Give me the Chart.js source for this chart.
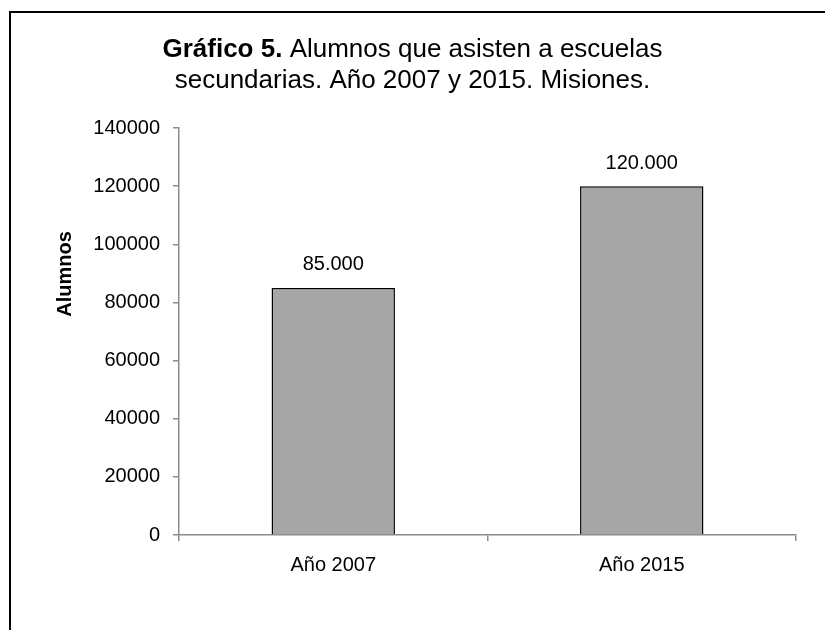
<!DOCTYPE html>
<html>
<head>
<meta charset="utf-8">
<script src="https://cdn.jsdelivr.net/npm/chart.js@4"></script>
<style>
  body { margin: 0; background: #fff; }
  canvas { display: block; }
</style>
</head>
<body>
<canvas id="myChart" width="825" height="630"></canvas>
<script>
const categories = ['Año 2007', 'Año 2015'];
const alumnos = [85000, 120000];
const yTicks = [0, 20000, 40000, 60000, 80000, 100000, 120000, 140000];

const FONT = '"Liberation Sans", Arial, sans-serif';

// puntos de miles: 85000 -> 85.000
const fmt = v => String(v).replace(/\B(?=(\d{3})+(?!\d))/g, '.');

const decoraciones = {
  id: 'decoraciones',
  afterDraw(chart) {
    const c = chart.ctx;
    c.save();
    // marco (solo arriba e izquierda)
    c.strokeStyle = '#000';
    c.lineWidth = 2;
    c.beginPath();
    c.moveTo(825, 12);
    c.lineTo(10, 12);
    c.lineTo(10, 630);
    c.stroke();

    // título con parte en negrita
    c.fillStyle = '#000';
    c.textBaseline = 'middle';
    c.textAlign = 'left';
    const bold = 'bold 26px ' + FONT, norm = '26px ' + FONT;
    const a = 'Gráfico 5.', b = ' Alumnos que asisten a escuelas';
    c.font = bold; const wa = c.measureText(a).width;
    c.font = norm; const wb = c.measureText(b).width;
    let x0 = 412.5 - (wa + wb) / 2;
    c.font = bold; c.fillText(a, x0, 50);
    c.font = norm; c.fillText(b, x0 + wa, 50);
    c.textAlign = 'center';
    c.fillText('secundarias. Año 2007 y 2015. Misiones.', 412.5, 81);

    // título eje Y
    c.save();
    c.translate(65, 274);
    c.rotate(-Math.PI / 2);
    c.font = 'bold 20px ' + FONT;
    c.fillText('Alumnos', 0, 0);
    c.restore();

    // etiquetas de datos
    c.font = '20px ' + FONT;
    chart.getDatasetMeta(0).data.forEach((bar, i) => {
      c.fillText(fmt(alumnos[i]), bar.x, bar.y - 23);
    });
    c.restore();
  }
};

new Chart(document.getElementById('myChart'), {
  type: 'bar',
  data: {
    labels: categories,
    datasets: [{
      data: alumnos,
      backgroundColor: '#a6a6a6',
      borderColor: '#000',
      borderWidth: 1.5,
      barPercentage: 1,
      categoryPercentage: 0.4
    }]
  },
  options: {
    responsive: false,
    animation: false,
    layout: { padding: { top: 128, right: 29, left: 0, bottom: 0 } },
    plugins: {
      legend: { display: false },
      tooltip: { enabled: false }
    },
    scales: {
      y: {
        min: 0,
        max: 140000,
        afterFit: s => { s.width = 179; },
        afterBuildTicks: s => { s.ticks = yTicks.map(v => ({ value: v })); },
        ticks: {
          color: '#000',
          font: { family: FONT, size: 20 },
          padding: 13,
          callback: v => String(v)
        },
        grid: { drawOnChartArea: false, tickLength: 6, color: '#8c8c8c', lineWidth: 1.5 },
        border: { display: true, color: '#8c8c8c', width: 1.5 }
      },
      x: {
        afterFit: s => { s.height = 95; },
        ticks: {
          color: '#000',
          font: { family: FONT, size: 20 },
          padding: 12
        },
        grid: { drawOnChartArea: false, tickLength: 6, color: '#8c8c8c', lineWidth: 1.5, offset: true },
        border: { display: true, color: '#8c8c8c', width: 1.5 }
      }
    }
  },
  plugins: [decoraciones]
});
</script>
</body>
</html>
